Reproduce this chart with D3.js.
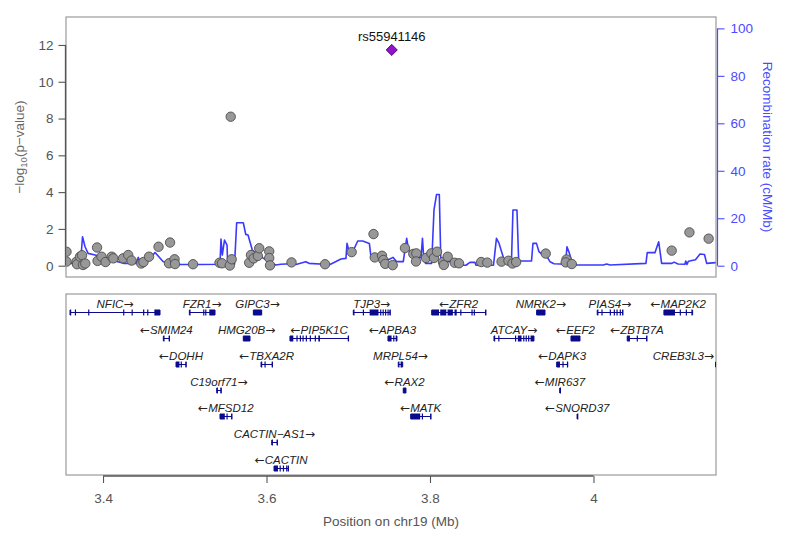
<!DOCTYPE html>
<html>
<head>
<meta charset="utf-8">
<script src="https://cdn.jsdelivr.net/npm/d3@7/dist/d3.min.js"></script>
<style>
html,body{margin:0;padding:0;background:#fff;}
svg{display:block;font-family:"Liberation Sans",Arial,sans-serif;}
</style>
</head>
<body>
<svg id="chart" width="791" height="536"></svg>
<script>
// ---------------- DATA ----------------
const xTicks = [3.4, 3.6, 3.8, 4.0];
const xTickLabels = ["3.4", "3.6", "3.8", "4"];
const yTicks = [0, 2, 4, 6, 8, 10, 12];
const recTicks = [0, 20, 40, 60, 80, 100];

// recombination rate (cM/Mb)
const recPos = [3.3554,3.3725,3.3749,3.3780,3.3817,3.3902,3.3988,3.4086,3.4251,3.4404,3.4432,3.4453,3.4575,3.4636,3.4734,3.4856,3.5187,3.5431,3.5443,3.5459,3.5486,3.5517,3.5525,3.5609,3.5635,3.5716,3.5746,3.5774,3.5826,3.5929,3.6031,3.6113,3.6174,3.6296,3.6361,3.6480,3.6520,3.6703,3.6777,3.6911,3.6972,3.6985,3.7006,3.7046,3.7116,3.7177,3.7258,3.7278,3.7303,3.7499,3.7547,3.7593,3.7673,3.7715,3.7735,3.7768,3.7792,3.7890,3.7908,3.7924,3.7945,3.8021,3.8049,3.8080,3.8114,3.8132,3.8147,3.8245,3.8285,3.8440,3.8489,3.8550,3.8563,3.8777,3.8813,3.8844,3.8911,3.8997,3.9015,3.9064,3.9085,3.9242,3.9260,3.9303,3.9333,3.9370,3.9419,3.9468,3.9517,3.9657,3.9676,3.9706,3.9747,4.0120,4.0161,4.0202,4.0642,4.0658,4.0752,4.0798,4.0834,4.0960,4.0985,4.1034,4.1119,4.1129,4.1144,4.1162,4.1248,4.1303,4.1358,4.1385,4.1499];
const recRate = [1.0,1.0,12.2,8.0,5.2,4.5,3.8,2.5,1.0,1.0,3.5,1.0,3.0,5.6,1.8,0.5,0.5,0.6,11.2,4.5,10.8,8.7,0.6,0.6,18.1,18.1,13.2,12.9,6.6,3.8,1.7,0.3,0.6,0.8,0.5,1.7,1.0,0.6,0.5,2.8,3.1,9.4,6.6,5.2,10.4,10.4,9.4,3.8,2.8,2.6,3.5,1.7,1.7,11.5,7.3,3.8,3.5,3.4,11.5,3.0,1.0,1.0,23.5,30.0,30.0,3.0,1.7,1.7,0.3,0.2,1.4,1.4,0.2,0.2,11.5,9.5,2.0,2.0,23.5,23.5,2.0,2.0,9.4,9.4,5.9,4.8,4.5,1.7,0.8,0.6,8.0,5.2,0.3,0.3,0.7,0.3,1.0,5.5,5.5,10.1,1.0,1.0,1.5,0.7,0.6,2.0,0.5,1.9,2.5,4.9,4.7,1.0,1.3];

// SNPs: position (Mb) and -log10(p)
const snpPos = [3.3553,3.3553,3.3676,3.3682,3.3719,3.3743,3.3755,3.3783,3.3927,3.3933,3.3982,3.4031,3.4106,3.4126,3.4245,3.4308,3.4349,3.4468,3.4495,3.4563,3.4679,3.4820,3.4807,3.4875,3.4881,3.5101,3.5425,3.5456,3.5551,3.5574,3.5562,3.5788,3.5810,3.5843,3.5894,3.5911,3.6033,3.6033,3.6043,3.6306,3.6716,3.7042,3.7309,3.7324,3.7413,3.7429,3.7452,3.7544,3.7694,3.7796,3.7833,3.7829,3.7951,3.8016,3.8049,3.8086,3.8159,3.8169,3.8217,3.8302,3.8355,3.8626,3.8701,3.8875,3.8960,3.9009,3.9054,3.9416,3.9670,3.9660,3.9735,4.0957,4.1174,4.1409];
const snpLogP = [0.76,0.22,0.22,0.08,0.49,0.57,0.04,0.12,0.99,0.26,0.49,0.20,0.49,0.40,0.40,0.58,0.28,0.12,0.20,0.49,1.03,1.26,0.13,0.35,0.09,0.08,0.16,0.13,0.01,0.35,8.10,0.16,0.58,0.40,0.53,0.95,0.78,0.42,0.02,0.18,0.08,0.74,1.72,0.45,0.54,0.31,0.10,0.03,0.96,0.64,0.67,0.23,0.42,0.67,0.42,0.76,0.20,0.04,0.49,0.16,0.13,0.20,0.17,0.22,0.27,0.12,0.20,0.66,0.34,0.18,0.09,0.82,1.81,1.47];

const leadName = "rs55941146";
const leadPos = 3.7532;
const leadLogP = 11.73;

// genes
const geneNames  = ["NFIC","FZR1","GIPC3","TJP3","ZFR2","NMRK2","PIAS4","MAP2K2",
                    "SMIM24","HMG20B","PIP5K1C","APBA3","ATCAY","EEF2","ZBTB7A",
                    "DOHH","TBXA2R","MRPL54","DAPK3","CREB3L3",
                    "C19orf71","RAX2","MIR637",
                    "MFSD12","MATK","SNORD37",
                    "CACTIN\u2212AS1","CACTIN"];
const geneStart  = [3.3596,3.5056,3.5839,3.7062,3.8021,3.9305,4.0046,4.0862,
                    3.4738,3.5716,3.6287,3.7486,3.8783,3.9725,4.0413,
                    3.4893,3.5933,3.7612,3.9550,4.1494,
                    3.5391,3.7673,3.9588,
                    3.5431,3.7764,3.9800,
                    3.6064,3.6092];
const geneEnd    = [3.4697,3.5370,3.5941,3.7511,3.8681,3.9407,4.0357,4.1213,
                    3.4811,3.5798,3.7001,3.7596,3.9272,3.9835,4.0651,
                    3.5015,3.6071,3.7666,3.9684,4.1700,
                    3.5443,3.7706,3.9592,
                    3.5574,3.8009,3.9804,
                    3.6132,3.6267];
const geneStrand = ["+","+","+","+","-","+","+","-",
                    "-","+","-","-","+","-","-",
                    "-","-","+","-","+",
                    "+","-","-",
                    "-","-","-",
                    "+","-"];
const geneRow    = [0,0,0,0,0,0,0,0, 1,1,1,1,1,1,1, 2,2,2,2,2, 3,3,3, 4,4,4, 5, 6];
const geneExons  = [
  [[3.3596,3.3602],[3.3655,3.3660],[3.3818,3.3823],[3.4246,3.4251],[3.4349,3.4354],[3.4490,3.4495],[3.4540,3.4545],[3.4628,3.4697]],
  [[3.5056,3.5061],[3.5225,3.5230],[3.5250,3.5262],[3.5300,3.5370]],
  [[3.5839,3.5941]],
  [[3.7062,3.7067],[3.7178,3.7183],[3.7262,3.7370],[3.7390,3.7396],[3.7420,3.7426],[3.7450,3.7456],[3.7480,3.7486],[3.7505,3.7511]],
  [[3.8021,3.8110],[3.8125,3.8200],[3.8215,3.8280],[3.8300,3.8327],[3.8370,3.8376],[3.8507,3.8513],[3.8535,3.8541],[3.8675,3.8681]],
  [[3.9305,3.9407]],
  [[4.0046,4.0052],[4.0097,4.0103],[4.0199,4.0205],[4.0248,4.0254],[4.0281,4.0287],[4.0321,4.0327],[4.0351,4.0357]],
  [[4.0862,4.0997],[4.1055,4.1061],[4.1129,4.1135],[4.1198,4.1213]],
  [[3.4738,3.4745],[3.4804,3.4811]],
  [[3.5716,3.5798]],
  [[3.6287,3.6328],[3.6366,3.6372],[3.6407,3.6413],[3.6440,3.6446],[3.6480,3.6486],[3.6529,3.6535],[3.6590,3.6596],[3.6634,3.6654],[3.6995,3.7001]],
  [[3.7486,3.7530],[3.7550,3.7556],[3.7580,3.7596]],
  [[3.8783,3.8790],[3.8835,3.8841],[3.9040,3.9046],[3.9075,3.9120],[3.9140,3.9150],[3.9170,3.9180],[3.9200,3.9210],[3.9230,3.9272]],
  [[3.9725,3.9835]],
  [[4.0413,4.0446],[4.0529,4.0535],[4.0645,4.0651]],
  [[3.4893,3.4935],[3.4950,3.4960],[3.5008,3.5015]],
  [[3.5933,3.5945],[3.5975,3.5985],[3.6064,3.6071]],
  [[3.7612,3.7625],[3.7640,3.7666]],
  [[3.9550,3.9590],[3.9620,3.9630],[3.9675,3.9684]],
  [[4.1494,4.1500]],
  [[3.5391,3.5397],[3.5437,3.5443]],
  [[3.7673,3.7706]],
  [[3.9588,3.9592]],
  [[3.5431,3.5490],[3.5510,3.5516],[3.5568,3.5574]],
  [[3.7764,3.7880],[3.7900,3.7906],[3.8003,3.8009]],
  [[3.9800,3.9804]],
  [[3.6064,3.6072],[3.6124,3.6132]],
  [[3.6092,3.6140],[3.6160,3.6168],[3.6200,3.6208],[3.6240,3.6248],[3.6260,3.6267]]
];

// ---------------- LAYOUT ----------------
const L = 66, R = 716;
const topT = 17, topB = 277;
const genT = 294, genB = 475;
const grey = "#555", boxCol = "#9a9a9a", recCol = "rgb(58,58,255)", recText = "#4b4bff";

const svg = d3.select("#chart");

const x = d3.scaleLinear().domain([3.3547, 4.1499]).range([L, R]);
const y = d3.scaleLinear().domain([-0.614, 13.52]).range([topB, topT]);
const yr = d3.scaleLinear().domain([-4.76, 104.8]).range([topB, topT]);
const rowY = d3.scaleLinear().domain([0, 6]).range([304, 460]);

// clip paths
const defs = svg.append("defs");
defs.append("clipPath").attr("id","clipTop").append("rect")
  .attr("x", L).attr("y", topT).attr("width", R-L).attr("height", topB-topT);
defs.append("clipPath").attr("id","clipGen").append("rect")
  .attr("x", L).attr("y", genT).attr("width", R-L).attr("height", genB-genT);

// ---------------- TOP PANEL ----------------
const recData = recPos.map((p,i)=>({p, r: recRate[i]}));
svg.append("path")
  .datum(recData)
  .attr("clip-path","url(#clipTop)")
  .attr("fill","none")
  .attr("stroke", recCol)
  .attr("stroke-width", 1.6)
  .attr("stroke-linejoin","round")
  .attr("d", d3.line().x(d=>x(d.p)).y(d=>yr(d.r)));

const snpData = snpPos.map((p,i)=>({p, v: snpLogP[i]}));
svg.append("g").attr("clip-path","url(#clipTop)")
  .selectAll("circle").data(snpData).join("circle")
  .attr("cx", d=>x(d.p)).attr("cy", d=>y(d.v)).attr("r", 4.7)
  .attr("fill", "#989898").attr("stroke", "#4d4d4d").attr("stroke-width", 0.9);

svg.append("path")
  .attr("d", d3.symbol().type(d3.symbolSquare).size(62)())
  .attr("transform", `translate(${x(leadPos)},${y(leadLogP)}) rotate(45)`)
  .attr("fill", "#9012cc").attr("stroke", "#4a0a70").attr("stroke-width", 0.9);
svg.append("text")
  .attr("x", x(leadPos)).attr("y", y(leadLogP) - 9)
  .attr("text-anchor","middle").attr("font-size", 13).attr("fill","#111")
  .text(leadName);

svg.append("rect").attr("x", L).attr("y", topT).attr("width", R-L).attr("height", topB-topT)
  .attr("fill","none").attr("stroke", boxCol).attr("stroke-width", 1.2);

// left axis
const yAxis = d3.axisLeft(y).tickValues(yTicks).tickSize(7).tickPadding(5).tickSizeOuter(0);
const gy = svg.append("g").attr("transform", `translate(${L-0.5},0)`).call(yAxis);
gy.select(".domain").remove();
gy.append("line").attr("x1",0).attr("x2",0).attr("y1", y(0)).attr("y2", y(12))
  .attr("stroke", grey).attr("stroke-width", 1.3);
gy.selectAll(".tick line").attr("stroke", grey).attr("stroke-width", 1.1);
gy.selectAll(".tick text").attr("fill", grey).attr("font-size", 13.5)
  .attr("font-family", '"Liberation Sans",Arial,sans-serif');

const yt = svg.append("text")
  .attr("transform", `translate(24,147) rotate(-90)`)
  .attr("text-anchor","middle").attr("font-size", 13.5).attr("fill", "#666");
yt.append("tspan").text("\u2212log");
yt.append("tspan").text("10").attr("font-size", 9.5).attr("dy", 3);
yt.append("tspan").text("(p\u2212value)").attr("dy", -3);

// right axis
const rAxis = d3.axisRight(yr).tickValues(recTicks).tickSize(7).tickPadding(6).tickSizeOuter(0);
const gr = svg.append("g").attr("transform", `translate(${R+1.5},0)`).call(rAxis);
gr.select(".domain").remove();
gr.append("line").attr("x1",0).attr("x2",0).attr("y1", yr(0)).attr("y2", yr(100))
  .attr("stroke", recText).attr("stroke-width", 1.2);
gr.selectAll(".tick line").attr("stroke", recText).attr("stroke-width", 1.1);
gr.selectAll(".tick text").attr("fill", recText).attr("font-size", 13.5)
  .attr("font-family", '"Liberation Sans",Arial,sans-serif');

svg.append("text")
  .attr("transform", `translate(763,147) rotate(90)`)
  .attr("text-anchor","middle").attr("font-size", 13.5).attr("fill", recText)
  .text("Recombination rate (cM/Mb)");

// ---------------- GENE PANEL ----------------
svg.append("rect").attr("x", L).attr("y", genT).attr("width", R-L).attr("height", genB-genT)
  .attr("fill","none").attr("stroke", boxCol).attr("stroke-width", 1.2);

const gGenes = svg.append("g").attr("clip-path","url(#clipGen)");
const navy = "#0a0a8a";
const genes = geneNames.map((n,i)=>({n, s: geneStart[i], e: geneEnd[i], str: geneStrand[i], row: geneRow[i], ex: geneExons[i]}));

genes.forEach(g=>{
  const by = rowY(g.row) + 8.5;
  gGenes.append("line")
    .attr("x1", x(g.s)).attr("x2", x(g.e)).attr("y1", by).attr("y2", by)
    .attr("stroke", navy).attr("stroke-width", 1);
  [g.s, g.e].forEach(p=>{
    gGenes.append("line").attr("x1", x(p)).attr("x2", x(p))
      .attr("y1", by-2.5).attr("y2", by+2.5).attr("stroke", navy).attr("stroke-width", 1);
  });
  g.ex.forEach(ex=>{
    const x0 = x(ex[0]), x1 = x(ex[1]);
    const w = Math.max(1.2, x1 - x0);
    gGenes.append("rect").attr("x", x0).attr("y", by-3).attr("width", w).attr("height", 6)
      .attr("fill", navy);
  });
});

// labels with arrows
const gLab = svg.append("g");
genes.forEach(g=>{
  const t = gLab.append("text")
    .attr("y", rowY(g.row) + 4)
    .attr("text-anchor","middle")
    .attr("font-size", 11.5).attr("fill","#222");
  const arrow = (ch) => t.append("tspan").text(ch)
      .attr("font-family", '"DejaVu Sans",sans-serif').attr("font-style","normal")
      .attr("font-size", 12);
  if (g.str === "+") {
    t.append("tspan").text(g.n).attr("font-style","italic");
    arrow("\u2192");
  } else {
    arrow("\u2190");
    t.append("tspan").text(g.n).attr("font-style","italic");
  }
  const w = t.node().getComputedTextLength();
  let cx = (x(g.s) + x(Math.min(g.e, 4.1499))) / 2;
  cx = Math.max(L + 2 + w/2, Math.min(R - 2 - w/2, cx));
  t.attr("x", cx);
});

// x axis
const xAxis = d3.axisBottom(x).tickValues(xTicks).tickFormat((d,i)=>xTickLabels[i])
  .tickSize(7).tickPadding(10).tickSizeOuter(0);
const gx = svg.append("g").attr("transform", `translate(0,${genB+1})`).call(xAxis);
gx.select(".domain").remove();
gx.append("line").attr("x1", x(3.4)).attr("x2", x(4.0)).attr("y1",0).attr("y2",0)
  .attr("stroke", grey).attr("stroke-width", 1.4);
gx.selectAll(".tick line").attr("stroke", grey).attr("stroke-width", 1.1);
gx.selectAll(".tick text").attr("fill", grey).attr("font-size", 13.5)
  .attr("font-family", '"Liberation Sans",Arial,sans-serif');

svg.append("text")
  .attr("x", (L+R)/2).attr("y", 526)
  .attr("text-anchor","middle").attr("font-size", 13.5).attr("fill", grey)
  .text("Position on chr19 (Mb)");
</script>
</body>
</html>
